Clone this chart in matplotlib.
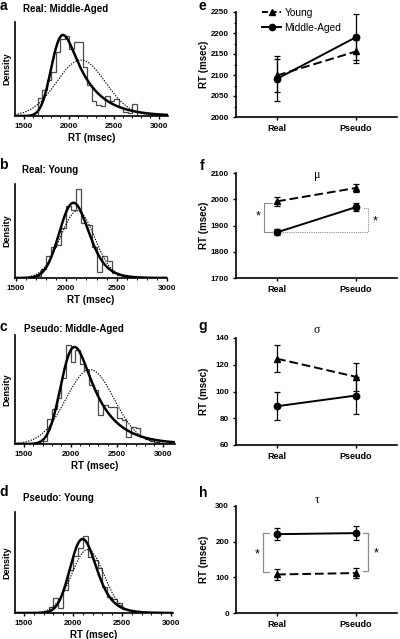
import numpy as np
import matplotlib.pyplot as plt
from matplotlib.lines import Line2D
from math import erfc

plt.rcParams['font.family'] = ['Liberation Sans', 'DejaVu Sans']

W, H = 400, 639

# group means and SEM (msec), order: Real, Pseudo
conditions = ['Real', 'Pseudo']
rt_young = [2099, 2156]
rt_young_err = [40, 28]
rt_ma = [2091, 2190]
rt_ma_err = [54, 55]

mu_young = [1992, 2043]
mu_young_err = [16, 16]
mu_ma = [1874, 1970]
mu_ma_err = [11, 16]

sigma_young = [124.5, 111]
sigma_young_err = [10, 10.5]
sigma_ma = [89, 97]
sigma_ma_err = [10.5, 13.5]

tau_young = [108, 112]
tau_young_err = [15, 15]
tau_ma = [221, 224]
tau_ma_err = [17.5, 20]

# RT histograms (relative counts, 50 ms bins)
bin_width = 50
hist_a_start = 1650
hist_a = [55, 80, 110, 135, 195, 235, 243, 205, 225, 225, 150, 95, 45, 32,
          30, 62, 45, 52, 28, 12, 10, 38]
hist_b_start = 1700
hist_b = [5, 30, 70, 100, 105, 160, 228, 215, 282, 175, 168, 100, 20, 70,
          55, 15, 8, 5, 3, 3, 0, 0, 0, 0, 0, 4]
hist_c_start = 1650
hist_c = [3, 10, 75, 105, 140, 200, 297, 247, 284, 242, 222, 177, 162, 87,
          117, 110, 110, 77, 72, 22, 52, 47, 22, 14, 8, 5, 4]
hist_d_start = 1650
hist_d = [3, 8, 20, 53, 18, 80, 150, 200, 228, 273, 198, 185, 160, 90, 58,
          50, 35, 15, 12, 6, 4, 3, 2]

# ex-Gaussian fits drawn over the histograms (solid), panels a-d
fit_mu = [1822, 1992, 1923, 2020]
fit_sigma = [95, 124, 112, 111]
fit_tau = [255, 107, 250, 111]
# normal fits (dotted)
norm_mean = [2130, 2110, 2210, 2150]
norm_sd = [270, 170, 259, 165]


def px_axes(fig, x0, y0, x1, y1):
    return fig.add_axes([x0 / W, 1 - y1 / H, (x1 - x0) / W, (y1 - y0) / H])


def exgauss_pdf(x, mu, sigma, tau):
    z = (x - mu) / sigma - sigma / tau
    phi = 0.5 * np.array([erfc(-v / np.sqrt(2)) for v in z])
    return np.exp(sigma ** 2 / (2 * tau ** 2) - (x - mu) / tau) / tau * phi


def normal_pdf(x, m, s):
    return np.exp(-0.5 * ((x - m) / s) ** 2) / (s * np.sqrt(2 * np.pi))


def style_axes(ax):
    for side in ['top', 'right']:
        ax.spines[side].set_visible(False)
    for side in ['left', 'bottom']:
        ax.spines[side].set_linewidth(1.2)
    ax.tick_params(width=1.0, length=2.5, pad=2.5, labelsize=5.8)
    for lab in ax.get_xticklabels() + ax.get_yticklabels():
        lab.set_fontweight('bold')


def hist_panel(fig, box, xlim, counts, start, i, peak_frac, title, tpos):
    ax = px_axes(fig, *box)
    counts = np.array(counts, dtype=float)
    edges = start + bin_width * np.arange(len(counts) + 1)
    dens = counts / (counts.sum() * bin_width)
    ax.stairs(dens, edges, color='#4a4a4a', lw=0.9, baseline=0)
    x = np.linspace(xlim[0], xlim[1], 400)
    ex = exgauss_pdf(x, fit_mu[i], fit_sigma[i], fit_tau[i])
    ax.plot(x, normal_pdf(x, norm_mean[i], norm_sd[i]), color='k', lw=0.8,
            ls=(0, (1.2, 1.2)))
    ax.plot(x, ex, color='k', lw=1.8)
    ax.set_xlim(*xlim)
    ax.set_ylim(0, ex.max() / peak_frac)
    ax.set_yticks([])
    ax.set_xticks([1500, 2000, 2500, 3000])
    ax.set_xticks(np.arange(1500, 3001, 100), minor=True)
    ax.tick_params(axis='x', which='minor', length=1.5, width=0.7)
    style_axes(ax)
    ax.set_ylabel('Density', fontsize=6.5, fontweight='bold')
    ax.yaxis.set_label_coords(-3.5 / (box[2] - box[0]), 0.5)
    ax.set_xlabel('RT (msec)', fontsize=7, fontweight='bold')
    ax.xaxis.set_label_coords(0.5, -17 / (box[3] - box[1]))
    fig.text(tpos[0] / W, 1 - tpos[1] / H, title, fontsize=7,
             fontweight='bold', ha='left', va='center')
    return ax


def group_panel(fig, box, young, young_err, ma, ma_err, ylim, yticks):
    ax = px_axes(fig, *box)
    x = np.arange(len(conditions))
    ax.errorbar(x, young, yerr=young_err, color='k', ls=(0, (4.5, 2)),
                marker='^', ms=5, lw=1.4, elinewidth=0.9, capsize=2.4,
                capthick=0.9)
    ax.errorbar(x, ma, yerr=ma_err, color='k', ls='-', marker='o', ms=4.6,
                lw=1.4, elinewidth=0.9, capsize=2.4, capthick=0.9)
    ax.set_xlim(-0.52, 1.52)
    ax.set_ylim(*ylim)
    ax.set_yticks(yticks)
    ax.set_xticks(x)
    ax.set_xticklabels(conditions)
    style_axes(ax)
    ax.tick_params(axis='x', labelsize=6.5)
    ax.set_ylabel('RT (msec)', fontsize=7, fontweight='bold')
    ax.yaxis.set_label_coords(-(box[0] - 209) / (box[2] - box[0]), 0.5)
    return ax


def bracket(ax, xv, xt, ytop, ybot, **kw):
    ax.plot([xt, xv, xv, xt], [ytop, ytop, ybot, ybot],
            solid_joinstyle='round', solid_capstyle='round', **kw)


fig = plt.figure(figsize=(W / 100, H / 100), dpi=100)

hist_panel(fig, (15, 22, 168, 116), (1400, 3095), hist_a, hist_a_start, 0,
           0.862, 'Real: Middle-Aged', (23, 9))
hist_panel(fig, (15, 184, 167, 278), (1490, 3000), hist_b, hist_b_start, 1,
           0.80, 'Real: Young', (22, 170))
hist_panel(fig, (15, 335, 175, 444), (1403, 3124), hist_c, hist_c_start, 2,
           0.89, 'Pseudo: Middle-Aged', (24, 329))
hist_panel(fig, (15, 512, 173, 613), (1408, 3020), hist_d, hist_d_start, 3,
           0.733, 'Pseudo: Young', (23, 498))

# e: mean RT
ax_e = group_panel(fig, (236, 12, 397, 117), rt_young, rt_young_err, rt_ma,
                   rt_ma_err, (2000, 2250), np.arange(2000, 2251, 50))
ax_e.set_yticks(np.arange(2025, 2250, 50), minor=True)
ax_e.tick_params(axis='y', which='minor', length=1.5, width=0.8)
handles = [Line2D([], [], color='k', ls=(0, (3, 1.5)), marker='^', ms=4.5, lw=1.4),
           Line2D([], [], color='k', ls='-', marker='o', ms=4.5, lw=1.4)]
fig.legend(handles, ['Young', 'Middle-Aged'], loc='upper left',
           bbox_to_anchor=(262 / W, 1 - 8 / H), frameon=False, fontsize=7.3,
           handlelength=1.9, handletextpad=0.3, labelspacing=0.45,
           borderpad=0, borderaxespad=0)

# f: mu
ax_f = group_panel(fig, (236, 173, 397, 278), mu_young, mu_young_err, mu_ma,
                   mu_ma_err, (1700, 2100), np.arange(1700, 2101, 100))
bracket(ax_f, -0.165, -0.065, mu_young[0] - 8, mu_ma[0] + 3,
        color='#8c8c8c', lw=0.8)
ax_f.text(-0.245, (mu_young[0] + mu_ma[0]) / 2, '*', fontsize=9,
          ha='center', va='center')
ax_f.plot([0.063, 1.152, 1.152, 1.089],
          [mu_ma[0], mu_ma[0], mu_ma[1] - 3, mu_ma[1] - 3],
          color='#8c8c8c', lw=0.8, ls=(0, (1, 1)))
ax_f.text(1.245, (mu_ma[0] + mu_ma[1]) / 2 - 8, '*', fontsize=9,
          ha='center', va='center')

# g: sigma
group_panel(fig, (236, 338, 397, 445), sigma_young, sigma_young_err,
            sigma_ma, sigma_ma_err, (60, 140), np.arange(60, 141, 20))

# h: tau
ax_h = group_panel(fig, (236, 506, 397, 613), tau_young, tau_young_err,
                   tau_ma, tau_ma_err, (0, 300), np.arange(0, 301, 100))
bracket(ax_h, -0.18, -0.105, tau_ma[0] + 3, tau_young[0] + 7,
        color='#8c8c8c', lw=0.9)
ax_h.text(-0.255, (tau_ma[0] + tau_young[0]) / 2, '*', fontsize=9,
          ha='center', va='center')
bracket(ax_h, 1.152, 1.089, tau_ma[1], tau_young[1] + 6,
        color='#8c8c8c', lw=0.9)
ax_h.text(1.25, (tau_ma[1] + tau_young[1]) / 2, '*', fontsize=9,
          ha='center', va='center')

# parameter symbols
for sym, y in [('\u03bc', 175), ('\u03c3', 330), ('\u03c4', 500)]:
    fig.text(317 / W, 1 - y / H, sym, fontsize=8.5, ha='center', va='center',
             family=['Liberation Serif', 'DejaVu Serif'])

# panel letters
for letter, x, y in [('a', 3, 6), ('b', 3, 165), ('c', 3, 327), ('d', 4, 492),
                     ('e', 202.5, 6), ('f', 202, 166), ('g', 203, 326),
                     ('h', 203, 493)]:
    fig.text(x / W, 1 - y / H, letter, fontsize=10, fontweight='bold',
             ha='center', va='center')

fig.savefig('out.png', dpi=100)
